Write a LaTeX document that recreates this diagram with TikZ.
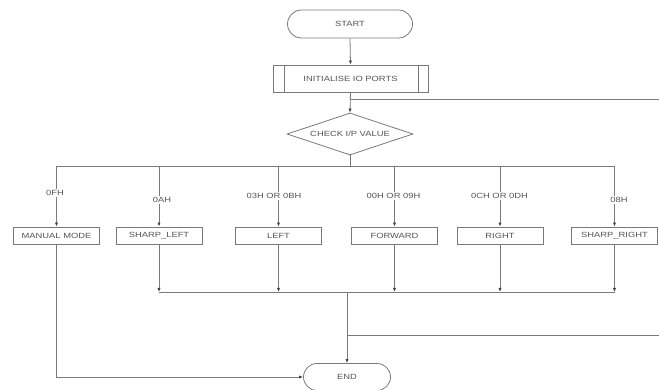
\documentclass[tikz,border=0pt]{standalone}
\usepackage{fontspec}
\newfontfamily\lblfont[FakeStretch=1.25]{Liberation Sans}
\usetikzlibrary{shapes.geometric,shapes.misc,arrows.meta}
\definecolor{ln}{HTML}{7A7A7A}
\definecolor{tx}{HTML}{555555}
\definecolor{tip}{HTML}{404040}
\tikzset{
  base/.style={draw=ln, line width=0.8pt, text=tx, font=\lblfont\fontsize{7.5}{8}\selectfont, inner sep=0pt},
  term/.style={base, rounded rectangle, minimum width=#1, minimum height=27pt},
  procbox/.style={base, rectangle, minimum width=86pt, minimum height=17pt},
  decide/.style={base, diamond, aspect=3, minimum width=126pt, minimum height=42pt},
  conn/.style={draw=ln, line width=0.8pt},
  arr/.style={conn, -{Latex[length=4pt,width=3.2pt,color=tip]}},
  lbl/.style={text=tx, fill=white, font=\lblfont\fontsize{7.5}{8}\selectfont, inner sep=1.5pt}
}
\begin{document}
\begin{tikzpicture}[x=1pt,y=-1pt]
\path[fill=white, use as bounding box] (0,0) rectangle (659,390);
% nodes
\node[term=125pt, minimum height=28pt] (start) at (350,24) {START};
\node[base, rectangle, minimum width=155pt, minimum height=27pt] (init) at (350.5,78.5) {INITIALISE IO PORTS};
\draw[conn] ([xshift=12pt]init.north west) -- ([xshift=12pt]init.south west);
\draw[conn] ([xshift=-10pt]init.north east) -- ([xshift=-10pt]init.south east);
\node[decide] (dia) at (350,134) {CHECK I/P VALUE};
\node[procbox] (b1) at (56.5,235.5) {MANUAL MODE};
\node[procbox] (b2) at (159,235.5) {SHARP\_LEFT};
\node[procbox] (b3) at (278.5,235.5) {LEFT};
\node[procbox] (b4) at (394.5,235.5) {FORWARD};
\node[procbox] (b5) at (500,235.5) {RIGHT};
\node[procbox] (b6) at (614.5,235.5) {SHARP\_RIGHT};
\node[term=87pt] (end) at (347,377) {END};
% coordinates
\coordinate (j1) at (350,99);
\coordinate (r1) at (659,99);
\coordinate (j2) at (350,166);
\coordinate (c) at (347,292);
\coordinate (j3) at (347,335);
\coordinate (r2) at (659,335);
% connectors top
\draw[arr] (start.south) -- (init.north);
\draw[arr] (init.south) -- (dia.north);
\draw[conn] (r1) -- (j1);
\draw[conn] (dia.south) -- (j2);
\draw[conn] (b1 |- j2) -- (b6 |- j2);
\foreach \b in {b1,b2,b3,b4,b5,b6} {
  \draw[arr] (\b |- j2) -- (\b.north);
}
% labels
\node[lbl] (l1) at (55,193) {0FH};
\node[lbl] (l2) at (162,200) {0AH};
\node[lbl] (l3) at (274,196) {03H OR 0BH};
\node[lbl] (l4) at (393.5,196) {00H OR 09H};
\node[lbl] (l5) at (499.5,196) {0CH OR 0DH};
\node[lbl] (l6) at (619,200) {08H};
% connectors bottom
\foreach \b in {b2,b3,b4,b5,b6} {
  \draw[arr] (\b.south) -- (\b |- c);
}
\draw[conn] (b2 |- c) -- (b6 |- c);
\draw[arr] (c) -- (end.north);
\draw[conn] (r2) -- (j3);
\draw[arr] (b1.south) |- (end.west);
\end{tikzpicture}
\end{document}
